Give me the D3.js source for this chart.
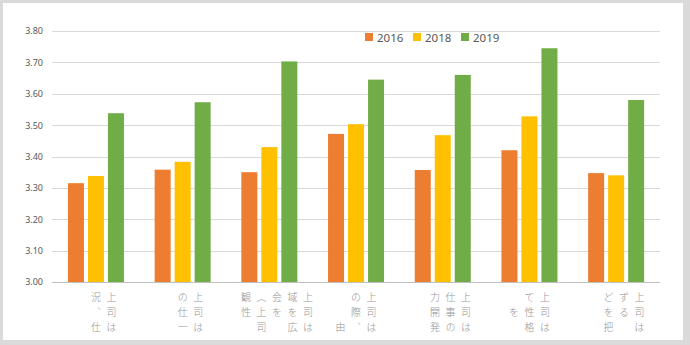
<!DOCTYPE html>
<html><head><meta charset="utf-8">
<script src="https://cdn.jsdelivr.net/npm/d3@7"></script>
<style>
html,body{margin:0;padding:0;background:#dadada;}
svg{display:block;}
</style></head>
<body>
<svg id="chart" width="690" height="345"></svg>
<script>
// ---- data ----
const categories = ["c1","c2","c3","c4","c5","c6","c7"];
// vertical label columns, first = rightmost column (vertical Japanese writing)
const categoryLabels = [
  ["上司は", "況、仕", ""],
  ["上司は", "の仕一", ""],
  ["上司は", "域を広", "会を", "（上司", "観性", ""],
  ["上司は", "の際、", "　　由"],
  ["上司は", "仕事の", "力開発", ""],
  ["上司は", "て性格", "　を"],
  ["上司は", "ずる", "どを把", ""]
];
const seriesNames = ["2016", "2018", "2019"];
const values2016 = [3.315, 3.358, 3.350, 3.472, 3.357, 3.420, 3.347];
const values2018 = [3.338, 3.383, 3.430, 3.503, 3.468, 3.528, 3.340];
const values2019 = [3.538, 3.573, 3.703, 3.645, 3.660, 3.745, 3.580];
const yTicks = [3.0, 3.1, 3.2, 3.3, 3.4, 3.5, 3.6, 3.7, 3.8];
const colors = ["#ED7D31", "#FFC000", "#70AD47"];

const seriesValues = [values2016, values2018, values2019];

const svg = d3.select("#chart");
svg.append("rect").attr("x",3).attr("y",3).attr("width",680).attr("height",337).attr("fill","#fff");

const x = d3.scaleBand().domain(categories).range([52.6, 659.5]);
const xs = d3.scaleBand().domain(seriesNames).range([-28, 28]).paddingInner(0.2);
const y = d3.scaleLinear().domain([3.0, 3.8]).range([282, 31]);

// gridlines
const yAxis = d3.axisLeft(y).tickValues(yTicks).tickFormat(d3.format(".2f")).tickSize(-(659.5-52)).tickPadding(9);
const gy = svg.append("g").attr("transform","translate(52,0)").call(yAxis);
gy.select(".domain").remove();
gy.selectAll(".tick line").attr("stroke", d => d === 3.0 ? "#bfbfbf" : "#d9d9d9").attr("stroke-width",1).attr("shape-rendering","crispEdges");
gy.selectAll(".tick text").attr("fill","#595959").attr("font-family","'Noto Sans', sans-serif").attr("font-size","9px");

// bars
seriesNames.forEach((s, si) => {
  svg.append("g").selectAll("rect").data(seriesValues[si]).join("rect")
    .attr("x", (d,i) => x(categories[i]) + x.bandwidth()/2 + xs(s))
    .attr("width", xs.bandwidth())
    .attr("y", d => y(d))
    .attr("height", d => y(3.0) - y(d))
    .attr("fill", colors[si]);
});

// x labels (vertical, fading)
const defs = svg.append("defs");
const grad = defs.append("linearGradient").attr("id","fade").attr("gradientUnits","userSpaceOnUse")
  .attr("x1",0).attr("x2",0).attr("y1",292).attr("y2",338);
grad.append("stop").attr("offset",0).attr("stop-color","#8c8c8c");
grad.append("stop").attr("offset",0.45).attr("stop-color","#b4b4b4");
grad.append("stop").attr("offset",1).attr("stop-color","#f4f4f4");

const colStep = 15.5;
const lg = svg.append("g").attr("fill","url(#fade)");
categoryLabels.forEach((cols, ci) => {
  const cx = x(categories[ci]) + x.bandwidth()/2;
  const n = cols.length;
  cols.forEach((txt, k) => {
    if (!txt) return;
    const colX = cx + (n-1)/2*colStep - k*colStep;
    lg.append("text")
      .attr("x", colX).attr("y", 292)
      .style("writing-mode","vertical-rl")
      .attr("font-family","'Noto Sans CJK JP', sans-serif")
      .attr("font-size","10px")
      .attr("font-weight","300")
      .attr("letter-spacing","5px")
      .text(txt);
  });
});

// legend
const legX = [365, 413, 461];
const leg = svg.append("g");
seriesNames.forEach((s, i) => {
  leg.append("rect").attr("x", legX[i]).attr("y", 33).attr("width",8).attr("height",8).attr("fill", colors[i]);
  leg.append("text").attr("x", legX[i]+12).attr("y", 41.5).text(s)
    .attr("fill","#595959").attr("font-family","'Noto Sans', sans-serif").attr("font-size","11.5px");
});

// bottom border over labels
svg.append("rect").attr("x",0).attr("y",340).attr("width",690).attr("height",5).attr("fill","#dadada");
</script>
</body></html>
